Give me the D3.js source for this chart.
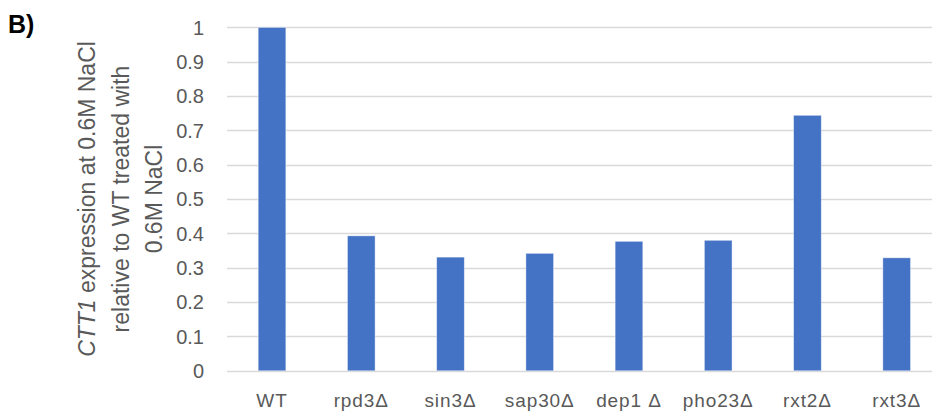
<!DOCTYPE html>
<html>
<head>
<meta charset="utf-8">
<script src="https://cdn.jsdelivr.net/npm/d3@7"></script>
<style>
  html, body { margin: 0; padding: 0; background: #fff; }
  svg { display: block; }
  text { font-family: "Liberation Sans", Arial, sans-serif; }
</style>
</head>
<body>
<svg id="chart" width="932" height="414"></svg>
<script>
const categories = ["WT", "rpd3\u0394", "sin3\u0394", "sap30\u0394", "dep1 \u0394", "pho23\u0394", "rxt2\u0394", "rxt3\u0394"];
const values = [1.0, 0.393, 0.331, 0.342, 0.377, 0.380, 0.744, 0.329];
const yTicks = [0, 0.1, 0.2, 0.3, 0.4, 0.5, 0.6, 0.7, 0.8, 0.9, 1];
const titleLines = ["expression at 0.6M NaCl", "relative to WT treated with", "0.6M NaCl"];
const titleGene = "CTT1";
const panelLabel = "B)";

const svg = d3.select("#chart");
const W = 932, H = 414;

const y = d3.scaleLinear().domain([0, 1]).range([370.8, 27.4]);
const x = d3.scaleBand().domain(categories).range([227.4, 941.3]).paddingInner(0.69).paddingOuter(0.345);

// gridlines
svg.append("g").selectAll("line").data(yTicks).join("line")
  .attr("x1", 227).attr("x2", W)
  .attr("y1", d => Math.round(y(d)) + 0.5).attr("y2", d => Math.round(y(d)) + 0.5)
  .attr("stroke", "#d9d9d9").attr("stroke-width", 1.3);

// y tick labels
svg.append("g").selectAll("text").data(yTicks).join("text")
  .attr("x", 204).attr("y", d => y(d))
  .attr("dy", "0.36em")
  .attr("text-anchor", "end")
  .attr("font-size", 20)
  .attr("fill", "#595959")
  .text(d => d3.format("~g")(d));

// bars
svg.append("g").selectAll("rect").data(values).join("rect")
  .attr("x", (d, i) => x(categories[i]))
  .attr("y", d => y(d))
  .attr("width", x.bandwidth())
  .attr("height", d => y(0) - y(d))
  .attr("fill", "#4472c4")
  .attr("stroke", "#ffffff").attr("stroke-opacity", 0.5).attr("stroke-width", 0.8);

// x labels
svg.append("g").selectAll("text").data(categories).join("text")
  .attr("x", d => x(d) + x.bandwidth() / 2)
  .attr("y", 407)
  .attr("text-anchor", "middle")
  .attr("font-size", 19)
  .attr("letter-spacing", "0.9px")
  .attr("fill", "#595959")
  .text(d => d);

// y axis title (3 lines, rotated)
const titleX = [95, 128.5, 162];
const tg = svg.append("g").attr("fill", "#595959").attr("font-size", 23);
titleLines.forEach((line, i) => {
  const t = tg.append("text")
    .attr("transform", `translate(${titleX[i]},199) rotate(-90)`)
    .attr("text-anchor", "middle");
  if (i === 0) {
    t.append("tspan").attr("font-style", "italic").text(titleGene);
    t.append("tspan").text(" " + line);
  } else {
    t.text(line);
  }
});

// panel label
svg.append("text")
  .attr("x", 8).attr("y", 33)
  .attr("font-size", 25).attr("font-weight", "bold")
  .attr("fill", "#000")
  .text(panelLabel);
</script>
</body>
</html>
